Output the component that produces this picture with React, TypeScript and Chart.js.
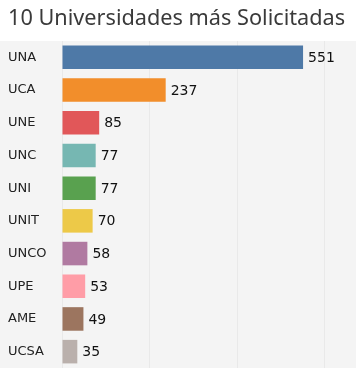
import React, { useEffect, useRef } from "react";
import { Chart, registerables } from "chart.js";

Chart.register(...registerables);

const titleText = "10 Universidades más Solicitadas";
const categories = ["UNA", "UCA", "UNE", "UNC", "UNI", "UNIT", "UNCO", "UPE", "AME", "UCSA"];
const values = [551, 237, 85, 77, 77, 70, 58, 53, 49, 35];
const colors = [
  "#4e79a7",
  "#f28e2b",
  "#e15759",
  "#76b7b2",
  "#59a14f",
  "#edc948",
  "#b07aa1",
  "#ff9da7",
  "#9c755f",
  "#bab0ac",
];
const axisMax = 672;
const gridStep = 200;

export default function App() {
  const ref = useRef<HTMLCanvasElement | null>(null);

  useEffect(() => {
    document.body.style.margin = "0";
    const canvas = ref.current;
    if (!canvas) return;

    const bgPlugin = {
      id: "bgPlugin",
      beforeDraw(chart: any) {
        const { ctx, width, height, chartArea } = chart;
        ctx.save();
        ctx.fillStyle = "#ffffff";
        ctx.fillRect(0, 0, width, height);
        ctx.fillStyle = "#f4f4f4";
        ctx.fillRect(0, chartArea.top, width, height - chartArea.top);
        ctx.fillStyle = "#3a3a3a";
        ctx.font = "21.7px 'Noto Sans'";
        ctx.textBaseline = "alphabetic";
        ctx.textAlign = "left";
        ctx.fillText(titleText, 8, 25);
        ctx.restore();
      },
    };

    const valuePlugin = {
      id: "valuePlugin",
      afterDatasetsDraw(chart: any) {
        const { ctx } = chart;
        const meta = chart.getDatasetMeta(0);
        ctx.save();
        ctx.fillStyle = "#111111";
        ctx.font = "14px 'DejaVu Sans'";
        ctx.textBaseline = "middle";
        ctx.textAlign = "left";
        meta.data.forEach((bar: any, i: number) => {
          ctx.fillText(String(values[i]), bar.x + 5, bar.y + 1);
        });
        ctx.restore();
      },
    };

    const chart = new Chart(canvas, {
      type: "bar",
      data: {
        labels: categories,
        datasets: [
          {
            data: values,
            backgroundColor: colors,
            borderWidth: 0,
            categoryPercentage: 1,
            barPercentage: 0.72,
          },
        ],
      },
      options: {
        indexAxis: "y",
        responsive: false,
        animation: false,
        layout: { padding: { left: 8, top: 41, right: 0, bottom: 0 } },
        plugins: {
          legend: { display: false },
          title: { display: false },
          tooltip: { enabled: false },
        },
        scales: {
          x: {
            min: 0,
            max: axisMax,
            position: "bottom",
            ticks: { display: false, stepSize: gridStep, padding: 0 },
            border: { display: false },
            grid: { color: "#e9e9e9", drawTicks: false, lineWidth: 1, tickLength: 0 },
            afterFit(scale: any) {
              scale.height = 0;
              scale.paddingLeft = 0;
              scale.paddingRight = 0;
            },
          },
          y: {
            type: "category",
            ticks: {
              crossAlign: "far",
              color: "#222222",
              font: { family: "'DejaVu Sans'", size: 13 },
              padding: 0,
            },
            grid: { display: false, drawTicks: false },
            border: { display: false },
            afterFit(scale: any) {
              scale.width = 54;
              scale.paddingTop = 0;
              scale.paddingBottom = 0;
            },
          },
        },
      },
      plugins: [bgPlugin, valuePlugin],
    });

    return () => chart.destroy();
  }, []);

  return (
    <div style={{ width: 356, height: 368 }}>
      <canvas ref={ref} width={356} height={368} />
    </div>
  );
}
